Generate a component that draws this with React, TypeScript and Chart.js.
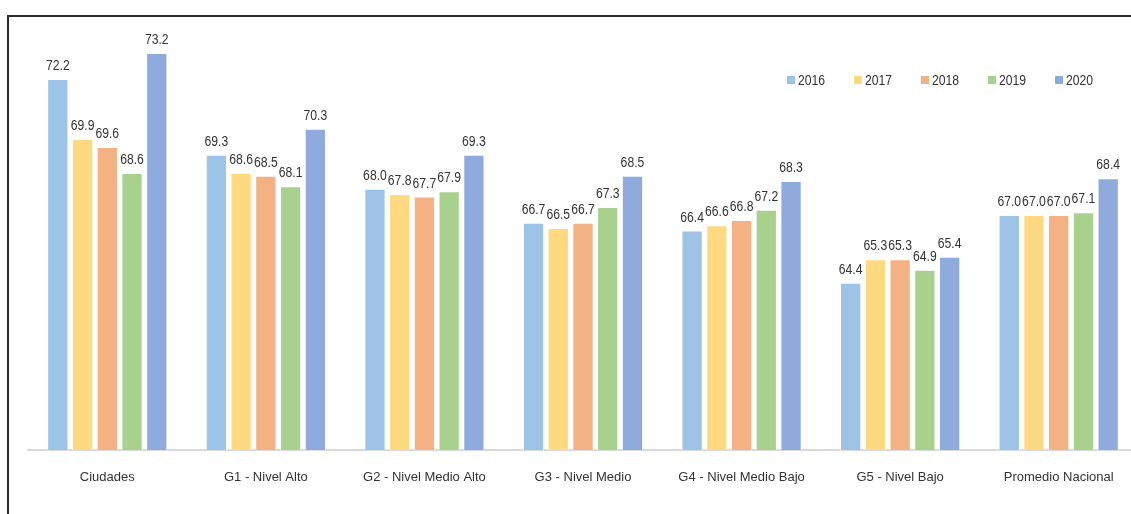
import React, { useEffect, useRef } from "react";
import { Chart, registerables } from "chart.js";

Chart.register(...registerables);

// Categories (groups of municipalities) and yearly index values
const categories = [
  "Ciudades",
  "G1 - Nivel Alto",
  "G2 - Nivel Medio Alto",
  "G3 - Nivel Medio",
  "G4 - Nivel Medio Bajo",
  "G5 - Nivel Bajo",
  "Promedio Nacional",
];

const years = ["2016", "2017", "2018", "2019", "2020"];

const values2016 = [72.2, 69.3, 68.0, 66.7, 66.4, 64.4, 67.0];
const values2017 = [69.9, 68.6, 67.8, 66.5, 66.6, 65.3, 67.0];
const values2018 = [69.6, 68.5, 67.7, 66.7, 66.8, 65.3, 67.0];
const values2019 = [68.6, 68.1, 67.9, 67.3, 67.2, 64.9, 67.1];
const values2020 = [73.2, 70.3, 69.3, 68.5, 68.3, 65.4, 68.4];

const seriesValues = [values2016, values2017, values2018, values2019, values2020];
const seriesColors = ["#9DC3E6", "#FFD97F", "#F4B183", "#A9D18E", "#8FAADC"];

const FONT = "'Liberation Sans', Arial, sans-serif";
const TEXT_COLOR = "#333333";
const CONDENSE = 0.87;

// Draws text squeezed horizontally so numbers fit above the narrow bars
function condensedText(ctx: CanvasRenderingContext2D, text: string, x: number, y: number) {
  ctx.save();
  ctx.translate(x, y);
  ctx.scale(CONDENSE, 1);
  ctx.fillText(text, 0, 0);
  ctx.restore();
}

// Value labels above every bar
const barLabels = {
  id: "barLabels",
  afterDatasetsDraw(chart: any) {
    const ctx = chart.ctx;
    ctx.save();
    ctx.font = `14px ${FONT}`;
    ctx.fillStyle = TEXT_COLOR;
    ctx.textAlign = "center";
    ctx.textBaseline = "alphabetic";
    chart.data.datasets.forEach((ds: any, di: number) => {
      const meta = chart.getDatasetMeta(di);
      meta.data.forEach((el: any, i: number) => {
        const v = ds.data[i] as number;
        condensedText(ctx, v.toFixed(1), el.x, el.y - 9);
      });
    });
    ctx.restore();
  },
};

// Horizontal legend placed inside the plot, top right
const insideLegend = {
  id: "insideLegend",
  afterDraw(chart: any) {
    const ctx = chart.ctx;
    const area = chart.chartArea;
    const startX = area.right - 351;
    const cy = area.top + 48;
    const step = 67;
    ctx.save();
    ctx.font = `14px ${FONT}`;
    ctx.textAlign = "left";
    ctx.textBaseline = "middle";
    chart.data.datasets.forEach((ds: any, i: number) => {
      const x = startX + i * step;
      ctx.fillStyle = ds.backgroundColor;
      ctx.fillRect(x, cy - 4, 8, 8);
      ctx.fillStyle = TEXT_COLOR;
      condensedText(ctx, ds.label, x + 11, cy + 1);
    });
    ctx.restore();
  },
};

export default function App() {
  const canvasRef = useRef<HTMLCanvasElement | null>(null);

  useEffect(() => {
    if (!canvasRef.current) return;
    const chart = new Chart(canvasRef.current, {
      type: "bar",
      data: {
        labels: categories,
        datasets: years.map((y, i) => ({
          label: y,
          data: seriesValues[i],
          backgroundColor: seriesColors[i],
          borderColor: "#FFFFFF",
          borderWidth: 1,
          barPercentage: 0.86,
          categoryPercentage: 0.78,
        })),
      },
      options: {
        responsive: false,
        animation: false,
        devicePixelRatio: 1,
        layout: { padding: { top: 15, left: 19, right: 3, bottom: 0 } },
        plugins: {
          legend: { display: false },
          tooltip: { enabled: false },
        },
        scales: {
          x: {
            grid: { display: false },
            border: { display: true, color: "#D9D9D9", width: 2 },
            ticks: {
              color: TEXT_COLOR,
              font: { family: FONT, size: 13 },
              padding: 12,
              maxRotation: 0,
              autoSkip: false,
            },
            afterFit(scale: any) {
              scale.height = 47;
            },
          },
          y: {
            display: false,
            min: 58,
            max: 74,
          },
        },
      },
      plugins: [barLabels, insideLegend],
    });
    return () => chart.destroy();
  }, []);

  return (
    <div
      style={{
        position: "fixed",
        left: 0,
        top: 0,
        right: 0,
        bottom: 0,
        overflow: "hidden",
        background: "#FFFFFF",
      }}
    >
      <div
        style={{
          position: "absolute",
          left: 7,
          top: 15,
          width: 1160,
          height: 540,
          border: "2px solid #2B2B2B",
          background: "#FFFFFF",
        }}
      >
        <canvas ref={canvasRef} width={1132} height={480} style={{ display: "block" }} />
      </div>
    </div>
  );
}
